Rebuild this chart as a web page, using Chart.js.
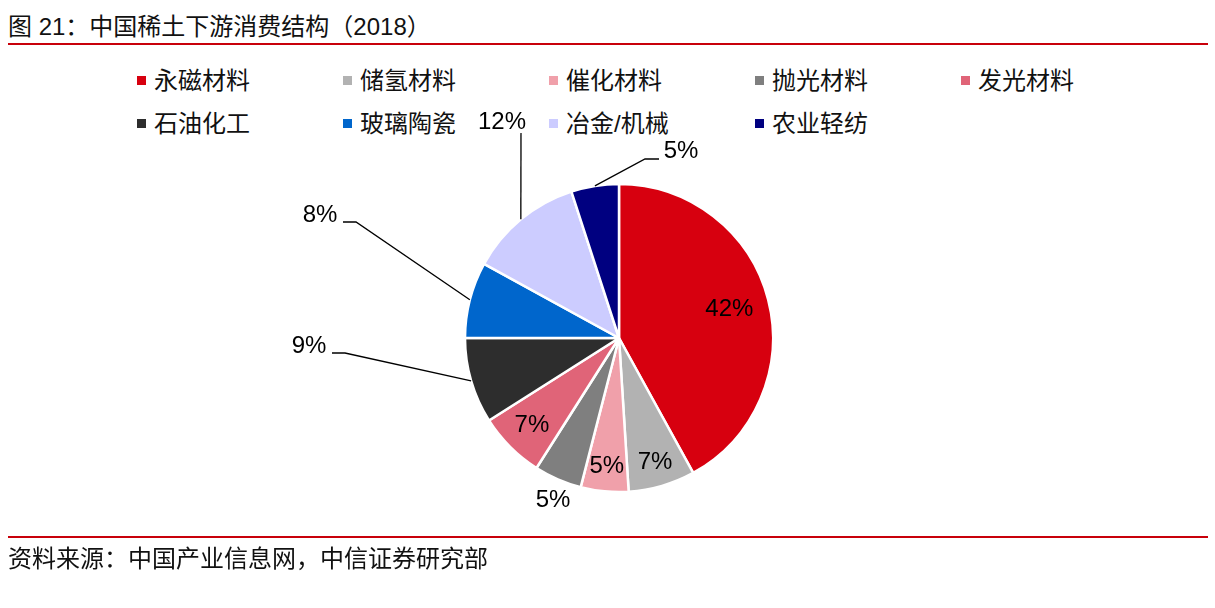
<!DOCTYPE html>
<html lang="zh">
<head>
    <meta charset="UTF-8">
    <title>中国稀土下游消费结构（2018）</title>
    <script src="https://cdn.jsdelivr.net/npm/chart.js"></script>
    <style>
        body {
            margin: 0;
            padding: 0;
            background: #fff;
            font-family: "Liberation Sans", "Noto Sans CJK SC", sans-serif;
            color: #000;
        }
        #page {
            position: relative;
            width: 1215px;
            height: 608px;
            overflow: hidden;
        }
        .title {
            position: absolute;
            left: 8px;
            top: 12px;
            font-size: 24px;
            line-height: 30px;
            color: #111;
        }
        .rule {
            position: absolute;
            left: 8px;
            width: 1200px;
            height: 2px;
            background: #c8000a;
        }
        .source {
            position: absolute;
            left: 8px;
            top: 544px;
            font-size: 24px;
            line-height: 30px;
            color: #111;
        }
        #legend {
            position: absolute;
            left: 137px;
            top: 66px;
        }
        .item {
            position: absolute;
            white-space: nowrap;
            font-size: 24px;
            line-height: 30px;
            color: #111;
        }
        .item span.box {
            display: inline-block;
            width: 9px;
            height: 9px;
            margin-right: 8px;
            vertical-align: 4px;
        }
        #pie {
            position: absolute;
            left: 0;
            top: 0;
        }
    </style>
</head>
<body>
<div id="page">
    <div class="title">图 21：中国稀土下游消费结构（2018）</div>
    <div class="rule" style="top:43px;"></div>
    <div id="legend"></div>
    <canvas id="pie" width="1215" height="608"></canvas>
    <div class="rule" style="top:536px;"></div>
    <div class="source">资料来源：中国产业信息网，中信证券研究部</div>
</div>
<script>
    // data (%)
    const categories = ['永磁材料', '储氢材料', '催化材料', '抛光材料', '发光材料', '石油化工', '玻璃陶瓷', '冶金/机械', '农业轻纺'];
    const shares = [42, 7, 5, 5, 7, 9, 8, 12, 5];
    const colors = ['#d7000f', '#b2b2b2', '#f0a0aa', '#7f7f7f', '#e06478', '#2d2d2d', '#0066cc', '#ccccff', '#000080'];

    // legend: 5 columns, 2 rows
    const legend = document.getElementById('legend');
    categories.forEach((name, i) => {
        const div = document.createElement('div');
        div.className = 'item';
        div.style.left = (i % 5) * 206 + 'px';
        div.style.top = Math.floor(i / 5) * 43 + 'px';
        div.innerHTML = '<span class="box" style="background:' + colors[i] + '"></span>' + name;
        legend.appendChild(div);
    });

    // label placement: inside at a radius fraction, or outside with leader lines (px relative to pie centre)
    const labelSpots = [
        { inside: 0.74 },
        { inside: 0.84 },
        { inside: 0.84 },
        { text: [-66, 162] },
        { inside: 0.8 },
        { text: [-310, 8], leader: [[-274, 15], [-287, 15]] },
        { text: [-299, -123], leader: [[-263, -116], [-276, -116]] },
        { text: [-117, -216], leader: [[-98, -205]] },
        { text: [62, -187], leader: [[26, -179], [40, -179]] }
    ];

    const pieLabels = {
        id: 'pieLabels',
        afterDatasetsDraw(chart) {
            const ctx = chart.ctx;
            const meta = chart.getDatasetMeta(0);
            ctx.save();
            ctx.font = '24px "Liberation Sans", Arial, sans-serif';
            ctx.fillStyle = '#000';
            ctx.strokeStyle = '#000';
            ctx.lineWidth = 1.3;
            ctx.textAlign = 'center';
            ctx.textBaseline = 'middle';
            meta.data.forEach((arc, i) => {
                const p = arc.getProps(['x', 'y', 'startAngle', 'endAngle', 'outerRadius'], true);
                const mid = (p.startAngle + p.endAngle) / 2;
                const spot = labelSpots[i];
                const txt = shares[i] + '%';
                if (spot.inside) {
                    const r = p.outerRadius * spot.inside;
                    ctx.fillText(txt, p.x + Math.cos(mid) * r, p.y + Math.sin(mid) * r);
                    return;
                }
                if (spot.leader) {
                    ctx.beginPath();
                    ctx.moveTo(p.x + Math.cos(mid) * p.outerRadius, p.y + Math.sin(mid) * p.outerRadius);
                    spot.leader.forEach(pt => ctx.lineTo(p.x + pt[0], p.y + pt[1]));
                    ctx.stroke();
                }
                ctx.fillText(txt, p.x + spot.text[0], p.y + spot.text[1]);
            });
            ctx.restore();
        }
    };

    new Chart(document.getElementById('pie').getContext('2d'), {
        type: 'pie',
        data: {
            labels: categories,
            datasets: [{
                data: shares,
                backgroundColor: colors,
                borderColor: '#ffffff',
                borderWidth: 2.5,
                radius: 154
            }]
        },
        options: {
            responsive: false,
            animation: false,
            layout: { padding: { left: 23, right: 0, top: 100, bottom: 32 } },
            plugins: {
                legend: { display: false },
                tooltip: { enabled: false }
            }
        },
        plugins: [pieLabels]
    });
</script>
</body>
</html>
